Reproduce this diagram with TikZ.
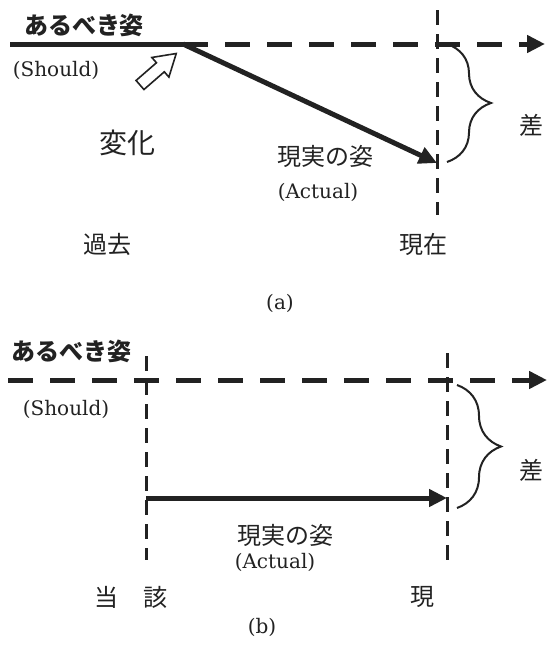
\documentclass[tikz,border=0pt]{standalone}
\usepackage{fontspec}
\newfontfamily\jp{Noto Sans CJK JP}
\newfontfamily\enserif{DejaVu Serif}
\usetikzlibrary{arrows.meta,decorations.pathreplacing}
\definecolor{ink}{HTML}{222222}
\begin{document}
\begin{tikzpicture}[x=1pt,y=-1pt,
  thickline/.style={line width=5pt, draw=ink},
  dashline/.style={line width=5pt, draw=ink, dash pattern=on 25pt off 17pt},
  vdash/.style={line width=3pt, draw=ink, dash pattern=on 15pt off 9pt},
  arrowtip/.style={-{Triangle[length=18pt,width=17pt]}},
  jphead/.style={font=\jp\bfseries\fontsize{24}{28}\selectfont, inner sep=0, text=ink},
  jplabel/.style={font=\jp\fontsize{24}{28}\selectfont, inner sep=0, text=ink},
  jpbig/.style={font=\jp\fontsize{28}{32}\selectfont, inner sep=0, text=ink},
  entext/.style={font=\enserif\fontsize{20}{24}\selectfont, inner sep=0, text=ink},
  bracestyle/.style={draw=ink, line width=2pt, decorate, decoration={brace, amplitude=44pt, aspect=0.5}}
]
\useasboundingbox[fill=white] (0,0) rectangle (548,654);

% ---------- panel (a) ----------
\coordinate (aL) at (10,44);
\coordinate (aK) at (183,44);
\coordinate (aR) at (545,44);
\coordinate (aE) at (437,163);
\coordinate (aVt) at (437,10);
\coordinate (aVb) at (437,215);
\coordinate (aBt) at (447,44);
\coordinate (aBb) at (447,162);

\draw[vdash] (aVt) -- (aVb);
\draw[thickline] (aL) -- (aK);
\draw[dashline, arrowtip] (aK) -- (aR);
\draw[thickline, arrowtip] (aK) -- (aE);
\draw[bracestyle] (aBt) -- (aBb);

% hollow block arrow
\begin{scope}[shift={(140,85)}, rotate=41]
  \draw[draw=ink, line width=1.6pt, fill=white]
    (0,-6) -- (27,-6) -- (27,-13) -- (48,0) -- (27,13) -- (27,6) -- (0,6) -- cycle;
\end{scope}

\node[jphead] (aShould) at (84,25) {あるべき姿};
\node[entext] (aShEn) at (56,70) {(Should)};
\node[jpbig] (aChange) at (127,143) {変化};
\node[jplabel] (aActual) at (325,156) {現実の姿};
\node[entext] (aActEn) at (318,192) {(Actual)};
\node[jplabel] (aPast) at (107,244) {過去};
\node[jplabel] (aNow) at (423,244) {現在};
\node[jplabel] (aDiff) at (531,125) {差};
\node[entext] (aCap) at (280,303) {(a)};

% ---------- panel (b) ----------
\coordinate (bL) at (8,380);
\coordinate (bR) at (547,380);
\coordinate (bV1t) at (146,356);
\coordinate (bV1b) at (146,560);
\coordinate (bV2t) at (447,353);
\coordinate (bV2b) at (447,560);
\coordinate (bS) at (146,498);
\coordinate (bE) at (447,498);
\coordinate (bBt) at (457,385);
\coordinate (bBb) at (457,508);

\draw[vdash] (bV1t) -- (bV1b);
\draw[vdash] (bV2t) -- (bV2b);
\draw[dashline, arrowtip] (bL) -- (bR);
\draw[thickline, arrowtip] (bS) -- (bE);
\draw[bracestyle] (bBt) -- (bBb);

\node[jphead] (bShould) at (72,351) {あるべき姿};
\node[entext] (bShEn) at (66,409) {(Should)};
\node[jplabel] (bActual) at (285,535) {現実の姿};
\node[entext] (bActEn) at (275,562) {(Actual)};
\node[jplabel] (bTo) at (106,597) {当};
\node[jplabel] (bGai) at (155,597) {該};
\node[jplabel] (bGen) at (422,597) {現};
\node[jplabel] (bDiff) at (531,470) {差};
\node[entext] (bCap) at (262,627) {(b)};
\end{tikzpicture}
\end{document}
